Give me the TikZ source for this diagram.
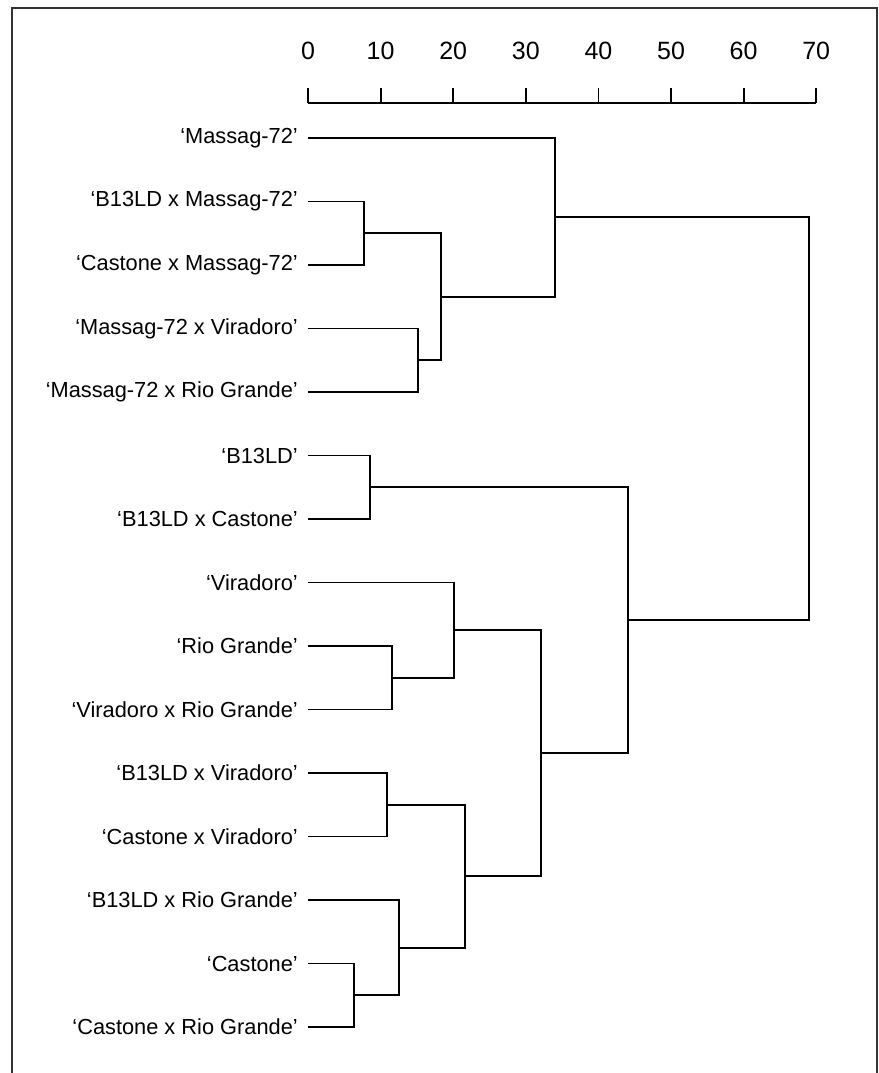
\documentclass[tikz,border=0pt]{standalone}
\usepackage{fontspec}
\setmainfont{Liberation Sans}
\begin{document}
\begin{tikzpicture}[
            x=1pt, y=-1pt,
            frame/.style = {draw=black!80, line width=2.6pt},
            link/.style = {draw=black, line width=1.8pt},
            leaf/.style = {anchor=east, inner xsep=10pt, inner ysep=0pt, font=\fontsize{21.8}{25}\selectfont},
            scalenum/.style = {font=\fontsize{25}{28}\selectfont}
          ]
          \useasboundingbox (0,0) rectangle (878,1073);
          % open frame, bottom edge runs off the page
          \draw[frame] (12,1090) |- (877,8) -- (877,1090);
          \begin{scope}[shift={(308pt,-138pt)}, x=7.26pt, y=-63.5pt]
            % distance scale
            \draw[link] (0,-0.551) -- (70,-0.551);
            \foreach \v in {0,10,...,70} {
              \draw[link] (\v,-0.551) -- (\v,-0.787);
              \node[scalenum] (n\v) at (\v,-1.37) {\v};
            }
            % leaves
            \node[leaf] (l0) at (0,0) {‘Massag-72’};
            \node[leaf] (l1) at (0,1) {‘B13LD x Massag-72’};
            \node[leaf] (l2) at (0,2) {‘Castone x Massag-72’};
            \node[leaf] (l3) at (0,3) {‘Massag-72 x Viradoro’};
            \node[leaf] (l4) at (0,4) {‘Massag-72 x Rio Grande’};
            \node[leaf] (l5) at (0,5) {‘B13LD’};
            \node[leaf] (l6) at (0,6) {‘B13LD x Castone’};
            \node[leaf] (l7) at (0,7) {‘Viradoro’};
            \node[leaf] (l8) at (0,8) {‘Rio Grande’};
            \node[leaf] (l9) at (0,9) {‘Viradoro x Rio Grande’};
            \node[leaf] (l10) at (0,10) {‘B13LD x Viradoro’};
            \node[leaf] (l11) at (0,11) {‘Castone x Viradoro’};
            \node[leaf] (l12) at (0,12) {‘B13LD x Rio Grande’};
            \node[leaf] (l13) at (0,13) {‘Castone’};
            \node[leaf] (l14) at (0,14) {‘Castone x Rio Grande’};
            % joins
            \coordinate (j1) at (7.7,1.5);
            \coordinate (j2) at (15.2,3.5);
            \coordinate (j3) at (18.3,2.5);
            \coordinate (j4) at (34.0,1.25);
            \coordinate (j5) at (8.5,5.5);
            \coordinate (j6) at (11.6,8.5);
            \coordinate (j7) at (20.1,7.75);
            \coordinate (j8) at (10.9,10.5);
            \coordinate (j9) at (6.3,13.5);
            \coordinate (j10) at (12.5,12.75);
            \coordinate (j11) at (21.6,11.625);
            \coordinate (j12) at (32.1,9.6875);
            \coordinate (j13) at (44.1,7.59);
            \coordinate (j14) at (69.0,4.42);
            \draw[link] (l1.east) -| (j1) |- (l2.east);
            \draw[link] (l3.east) -| (j2) |- (l4.east);
            \draw[link] (j1) -| (j3) |- (j2);
            \draw[link] (l0.east) -| (j4) |- (j3);
            \draw[link] (l5.east) -| (j5) |- (l6.east);
            \draw[link] (l8.east) -| (j6) |- (l9.east);
            \draw[link] (l7.east) -| (j7) |- (j6);
            \draw[link] (l10.east) -| (j8) |- (l11.east);
            \draw[link] (l13.east) -| (j9) |- (l14.east);
            \draw[link] (l12.east) -| (j10) |- (j9);
            \draw[link] (j8) -| (j11) |- (j10);
            \draw[link] (j7) -| (j12) |- (j11);
            \draw[link] (j5) -| (j13) |- (j12);
            \draw[link] (j4) -| (j14) |- (j13);
          \end{scope}
        \end{tikzpicture}
\end{document}
